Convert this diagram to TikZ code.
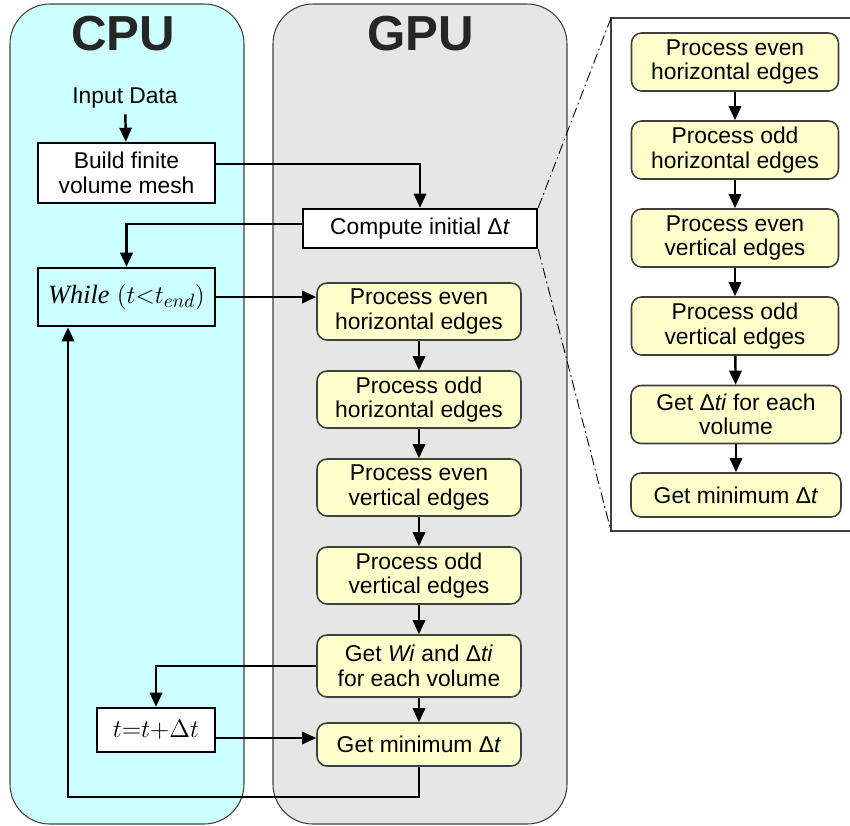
\documentclass[tikz,border=0pt]{standalone}
\usepackage{fontspec}
\setmainfont{Liberation Sans}
\newfontfamily\timesfont{Liberation Serif}
\usetikzlibrary{arrows.meta, positioning}
\definecolor{cpucyan}{HTML}{CCFFFF}
\definecolor{gpugray}{HTML}{E6E6E6}
\definecolor{stepyellow}{HTML}{FFFFCC}
\definecolor{framegray}{HTML}{404040}

\begin{document}
\begin{tikzpicture}[x=0.02cm, y=-0.02cm,
    font=\fontsize{13pt}{14pt}\selectfont,
    panel/.style={draw=framegray, line width=0.6pt, rounded corners=0.8cm},
    title/.style={font=\fontsize{28pt}{30pt}\selectfont\bfseries, text=black!85},
    plainbox/.style={draw, line width=1.4pt, fill=white, align=center, inner sep=0pt},
    gpubox/.style={draw=black!75, line width=0.9pt, fill=stepyellow, rounded corners=0.2cm,
                   align=center, inner sep=0pt, minimum width=4.08cm, minimum height=1.14cm},
    zoombox/.style={gpubox, minimum width=4.14cm, minimum height=1.16cm},
    flow/.style={line width=1.4pt, -{Triangle[length=8pt,width=7pt]}},
    zoomline/.style={line width=0.5pt, dash pattern=on 6pt off 2pt on 1pt off 2pt}
  ]
  \useasboundingbox (0,0) rectangle (850,826);

  % Panels
  \draw[panel, fill=cpucyan] (10,4) rectangle (244,824);
  \draw[panel, fill=gpugray] (273,4) rectangle (567,824);
  \node[title] (cputitle) at (123,34) {CPU};
  \node[title] (gputitle) at (421,34) {GPU};

  % CPU side
  \node (input) at (125,98) {Input Data};
  \node[plainbox, minimum width=3.54cm, minimum height=1.2cm] (build) at (126.5,173) {Build finite\\volume mesh};
  \node[plainbox, fill=cpucyan, minimum width=3.54cm, minimum height=1.16cm] (while) at (126.5,297)
    {\fontsize{15pt}{16pt}\selectfont{\timesfont\itshape While} $\left(t{<}t_{end}\right)$};
  \node[plainbox, minimum width=2.36cm, minimum height=0.88cm] (update) at (156,730)
    {\fontsize{15pt}{16pt}\selectfont$t{=}t{+}\Delta t$};

  % GPU side
  \node[plainbox, minimum width=4.68cm, minimum height=0.78cm] (initdt) at (420,228.5) {Compute initial Δ\textit{t}};
  \node[gpubox] (g1) at (419,311.5) {Process even\\horizontal edges};
  \node[gpubox] (g2) at (419,399.5) {Process odd\\horizontal edges};
  \node[gpubox] (g3) at (419,487.5) {Process even\\vertical edges};
  \node[gpubox] (g4) at (419,575.5) {Process odd\\vertical edges};
  \node[gpubox, minimum height=1.24cm] (g5) at (419,666) {Get \textit{Wi} and Δ\textit{ti}\\for each volume};
  \node[gpubox, minimum height=0.86cm] (g6) at (419,744.5) {Get minimum Δ\textit{t}};

  % Zoomed view
  \coordinate (frametop) at (611,18);
  \coordinate (framebot) at (611,531);
  \draw[framegray, line width=0.8pt] (852,18) -- (frametop) -- (framebot) -- (852,531);
  \draw[zoomline] (initdt.north east) -- (frametop);
  \draw[zoomline] (initdt.south east) -- (framebot);

  \node[zoombox] (z1) at (735,62) {Process even\\horizontal edges};
  \node[zoombox] (z2) at (735,150) {Process odd\\horizontal edges};
  \node[zoombox] (z3) at (735,238) {Process even\\vertical edges};
  \node[zoombox] (z4) at (735,326) {Process odd\\vertical edges};
  \node[zoombox, minimum width=4.2cm] (z5) at (736,414.5) {Get Δ\textit{ti} for each\\volume};
  \node[zoombox, minimum width=4.2cm, minimum height=0.88cm] (z6) at (736,495) {Get minimum Δ\textit{t}};

  % Connectors
  \draw[flow] (input) -- (build);
  \draw[flow] ([yshift=0.18cm]build.east) -| (initdt.north);
  \draw[flow] ([yshift=0.09cm]initdt.west) -| (while.north);
  \draw[flow] (while.east) -- (while.east -| g1.west);
  \foreach \a/\b in {g1/g2, g2/g3, g3/g4, g4/g5, g5/g6, z1/z2, z2/z3, z3/z4, z4/z5, z5/z6}
    \draw[flow] (\a) -- (\b);
  \draw[flow] (g5.west) -| (update.north);
  \draw[flow] ([yshift=-0.16cm]update.east) -- ([yshift=-0.16cm]update.east -| g6.west);
  \coordinate (loopcorner) at (68,797);
  \draw[flow] (g6.south) |- (loopcorner) -- (loopcorner |- while.south);
\end{tikzpicture}
\end{document}
